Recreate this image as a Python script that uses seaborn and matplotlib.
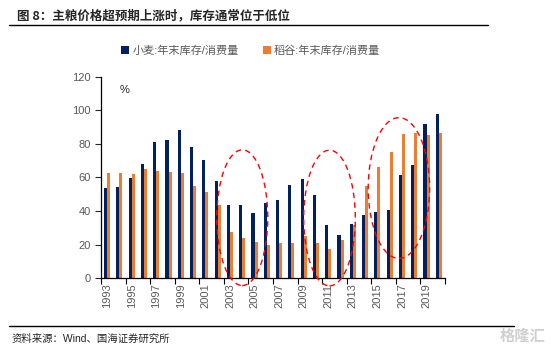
import matplotlib
matplotlib.use("Agg")
import matplotlib.pyplot as plt
from matplotlib.patches import Ellipse
import pandas as pd
import seaborn as sns

sns.set_style("ticks")
plt.rcParams["font.family"] = ["Liberation Sans", "Noto Sans CJK SC", "DejaVu Sans"]

YEARS = list(range(1993, 2021))
WHEAT = [53.6, 54.4, 59.9, 68.1, 81.2, 82.1, 88.5, 78.0, 70.2, 57.7,
         43.8, 43.7, 39.1, 44.8, 46.8, 55.8, 59.3, 49.4, 31.9, 25.4,
         32.5, 37.9, 39.7, 40.3, 61.3, 67.3, 92.1, 98.0]
RICE = [62.5, 62.5, 62.3, 64.9, 64.1, 63.5, 62.5, 54.8, 51.4, 43.8,
        27.4, 23.8, 21.4, 19.8, 20.6, 20.8, 24.8, 20.6, 17.3, 22.4,
        31.7, 54.8, 66.1, 75.0, 85.9, 86.3, 85.1, 86.7]
SERIES = ["小麦:年末库存/消费量", "稻谷:年末库存/消费量"]
COLORS = ["#002060", "#ED7D31"]

df = pd.DataFrame({
    "year": [str(y) for y in YEARS] * 2,
    "value": WHEAT + RICE,
    "series": [SERIES[0]] * len(YEARS) + [SERIES[1]] * len(YEARS),
})

fig = plt.figure(figsize=(5.51, 3.52), dpi=100)
ax = fig.add_axes([0.1833, 0.2102, 0.6243, 0.5711])

sns.barplot(data=df, x="year", y="value", hue="series", hue_order=SERIES,
            palette=COLORS, saturation=1, width=0.5, gap=0, ax=ax, legend=True, linewidth=0)

ax.set_xlim(-0.5, len(YEARS) - 0.5)
ax.set_ylim(0, 120)
ax.set_yticks(range(0, 121, 20))
ax.set_xlabel("")
ax.set_ylabel("")
ax.set_xticks(range(0, len(YEARS), 2))
ax.set_xticklabels([str(y) for y in YEARS[::2]], rotation=90)
ax.set_xticks([i - 0.5 for i in range(0, len(YEARS) + 1, 2)], minor=True)
ax.tick_params(axis="x", which="major", length=0, pad=4, labelsize=8, labelcolor="#595959")
ax.tick_params(axis="x", which="minor", length=4, width=0.8, color="black")
ax.tick_params(axis="y", length=4, width=0.8, labelsize=8, labelcolor="#595959")
sns.despine(ax=ax)
for s in ("left", "bottom"):
    ax.spines[s].set_color("black")
    ax.spines[s].set_linewidth(0.9)

ax.text(0.055, 0.96, "%", transform=ax.transAxes, fontsize=8, va="top", ha="left")

# red dashed circles around low stock periods
for cx, cy, w, h in [(11.0, 36.0, 4.15, 81.0), (18.1, 35.8, 4.2, 81.0), (23.75, 53.7, 5.0, 84.0)]:
    ax.add_patch(Ellipse((cx, cy), w, h, fill=False, edgecolor="#FF0000",
                         linestyle=(0, (4, 3)), linewidth=1.0, clip_on=False, zorder=5))

handles, labels = ax.get_legend_handles_labels()
ax.legend_.remove()
fig.legend(handles, labels, loc="center", bbox_to_anchor=(0.455, 0.855), ncol=2,
           frameon=False, fontsize=8, handlelength=0.7, handleheight=0.7,
           handletextpad=0.3, columnspacing=2.2, labelcolor="#595959")

fig.text(0.03, 0.955, "图 8：主粮价格超预期上涨时，库存通常位于低位", fontsize=9,
         fontweight="bold", va="center", ha="left", family=["Noto Sans CJK SC", "DejaVu Sans"])
fig.add_artist(plt.Line2D([0.017, 0.885], [0.928, 0.928], color="black", linewidth=1.0))
fig.add_artist(plt.Line2D([0.017, 0.933], [0.074, 0.074], color="black", linewidth=1.0))
fig.text(0.02, 0.038, "资料来源：Wind、国海证券研究所", fontsize=7.5, va="center", ha="left",
         family=["Liberation Sans", "Noto Sans CJK SC"])
fig.text(0.99, 0.045, "格隆汇", fontsize=11, color="#d0d0d0", va="center", ha="right",
         fontweight="bold", family=["Noto Sans CJK SC", "DejaVu Sans"])

fig.savefig("out.png", dpi=100)
